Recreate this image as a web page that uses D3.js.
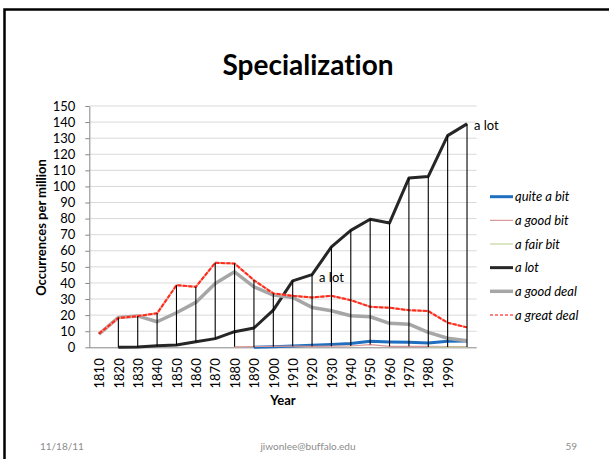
<!DOCTYPE html>
<html>
<head>
<meta charset="utf-8">
<script src="https://cdn.jsdelivr.net/npm/d3@7"></script>
<style>
  html, body { margin: 0; padding: 0; background: #fff; }
  svg { display: block; }
  text { font-family: Lato, "Open Sans", sans-serif; font-variant-ligatures: none; font-feature-settings: "liga" 0, "dlig" 0; }
</style>
</head>
<body>
<svg id="chart" width="609" height="459"></svg>
<script>
const years = [1810,1820,1830,1840,1850,1860,1870,1880,1890,1900,1910,1920,1930,1940,1950,1960,1970,1980,1990,2000];
const tickLabels = ["1810","1820","1830","1840","1850","1860","1870","1880","1890","1900","1910","1920","1930","1940","1950","1960","1970","1980","1990",""];
const yTicks = [0,10,20,30,40,50,60,70,80,90,100,110,120,130,140,150];

const quiteABit = [null,null,null,null,null,null,null,null,0,0.4,0.8,1.2,1.7,2.3,3.7,3.3,3.1,2.7,3.7,3.9];
const aGoodBit  = [null,null,null,null,null,null,null,0.3,0.5,0.6,0.7,0.6,0.7,0.8,1.7,0.6,0.6,0.6,0.5,0.5];
const aFairBit  = [null,null,null,null,null,null,null,null,null,null,null,null,null,null,null,null,null,0.2,0.2,0.2];
const aLot      = [null,0,0.2,1,1.4,3.5,5.4,9.7,12,23.1,41.3,45.2,62.4,72.7,79.6,77.3,105.2,106.2,131.6,138.9];
const aGoodDeal = [8.2,18.5,19.5,15.9,21.5,27.9,39.7,46.9,37.6,32.5,31,24.8,22.7,19.6,19,14.9,14.4,9.3,5.6,4.1];
const aGreatDeal= [8.5,18.2,19.4,21.1,38.6,37.6,52.5,52.1,41.7,33.5,32,31,32,29.3,25.2,24.6,23.1,22.5,15.3,12.4];

const seriesNames = ["quite a bit","a good bit","a fair bit","a lot","a good deal","a great deal"];
const seriesValues = [quiteABit, aGoodBit, aFairBit, aLot, aGoodDeal, aGreatDeal];
const seriesColors = ["#1F6FC0","#D99694","#C3D69B","#262626","#A6A6A6","#FF2A1A"];
const seriesWidths = [3, 1.2, 1.2, 3, 3.5, 2];

const title = "Specialization";
const yTitle = "Occurrences per million";
const xTitle = "Year";
const footer = ["11/18/11","jiwonlee@buffalo.edu","59"];

const svg = d3.select("#chart");
svg.append("rect").attr("width",609).attr("height",459).attr("fill","#fff");

// slide frame (top & left edges visible)
svg.append("rect").attr("x",4.5).attr("y",9.5).attr("width",700).attr("height",600)
  .attr("fill","none").attr("stroke","#000").attr("stroke-width",2.5);

const x = d3.scalePoint().domain(years).range([89.3, 476.7]).padding(0.5);
const y = d3.scaleLinear().domain([0,150]).range([347.3, 106]);

// gridlines
svg.append("g").selectAll("line").data(yTicks.filter(d=>d>0)).join("line")
  .attr("x1",89.3).attr("x2",476.7)
  .attr("y1",d=>y(d)).attr("y2",d=>y(d))
  .attr("stroke","#D9D9D9").attr("stroke-width",1);

// y axis
const yAxis = svg.append("g").attr("transform","translate(89.3,0)")
  .call(d3.axisLeft(y).tickValues(yTicks).tickSize(4).tickPadding(10).tickSizeOuter(0));
yAxis.select(".domain").attr("stroke","#868686");
yAxis.selectAll(".tick line").attr("stroke","#868686");
yAxis.selectAll("text").attr("font-size","13px").attr("fill","#000")
  .style("font-family","Lato, 'Open Sans', sans-serif");

// x axis
const xAxis = svg.append("g").attr("transform","translate(0,347.3)")
  .call(d3.axisBottom(x).tickSize(0).tickSizeOuter(0).tickFormat((d,i)=>tickLabels[i]));
xAxis.select(".domain").attr("stroke","#868686").attr("d","M89.3,0.5H476.7");
xAxis.selectAll("text")
  .attr("transform","rotate(-90)")
  .attr("x",-11).attr("y",0).attr("dy","0.36em")
  .attr("text-anchor","end")
  .attr("font-size","13px").attr("fill","#000")
  .style("font-family","Lato, 'Open Sans', sans-serif");

// series lines
const line = d3.line()
  .defined(d => d.v !== null)
  .x(d => x(d.year)).y(d => y(d.v));

seriesValues.forEach((vals, si) => {
  const pts = vals.map((v,i)=>({year: years[i], v}));
  if (si === 5) {
    svg.append("path").datum(pts).attr("d",line).attr("fill","none")
      .attr("stroke","#F59A8C").attr("stroke-width",2).attr("stroke-linejoin","round");
    svg.append("path").datum(pts).attr("d",line).attr("fill","none")
      .attr("stroke",seriesColors[si]).attr("stroke-width",2)
      .attr("stroke-dasharray","4,1.5").attr("stroke-linejoin","round");
  } else {
    svg.append("path").datum(pts).attr("d",line).attr("fill","none")
      .attr("stroke",seriesColors[si]).attr("stroke-width",seriesWidths[si])
      .attr("stroke-linejoin","round");
  }
});

// high-low lines
const hl = years.map((yr,i) => {
  const vs = seriesValues.map(s=>s[i]).filter(v=>v!==null);
  return {year: yr, hi: d3.max(vs), lo: d3.min(vs)};
});
svg.append("g").selectAll("line").data(hl).join("line")
  .attr("x1",d=>x(d.year)).attr("x2",d=>x(d.year))
  .attr("y1",d=>y(d.hi)).attr("y2",d=>y(d.lo))
  .attr("stroke","#000").attr("stroke-width",1.1);

// data labels for "a lot"
const labelIdx = [11, 19];
svg.append("g").selectAll("text").data(labelIdx).join("text")
  .attr("x",i=>x(years[i]) + 7).attr("y",i=>y(aLot[i]) + 2 + (i===11?1:0))
  .attr("dy","0.35em")
  .attr("font-size","13px").attr("fill","#000")
  .text("a lot");

// legend
const lg = svg.append("g");
seriesNames.forEach((name, si) => {
  const ly = 196.7 + si*23.65;
  if (si === 5) {
    lg.append("line").attr("x1",490).attr("x2",513).attr("y1",ly).attr("y2",ly)
      .attr("stroke","#FF8080").attr("stroke-width",2).attr("stroke-dasharray","3,2");
  } else {
    lg.append("line").attr("x1",490).attr("x2",513).attr("y1",ly).attr("y2",ly)
      .attr("stroke",seriesColors[si]).attr("stroke-width",seriesWidths[si]);
  }
  lg.append("text").attr("x",515).attr("y",ly).attr("dy","0.35em")
    .attr("font-size","13px").attr("font-style","italic").attr("fill","#000")
    .text(name);
});

// titles
svg.append("text").attr("x",308).attr("y",75).attr("text-anchor","middle")
  .attr("font-size","28px").attr("font-weight","bold").attr("fill","#000").text(title);

svg.append("text").attr("transform","translate(45.5,227.5) rotate(-90)")
  .attr("text-anchor","middle").attr("font-size","13px").attr("font-weight","bold")
  .attr("fill","#000").text(yTitle);

svg.append("text").attr("x",283).attr("y",405).attr("text-anchor","middle")
  .attr("font-size","13px").attr("font-weight","bold").attr("fill","#000").text(xTitle);

// footer
svg.append("text").attr("x",40).attr("y",450).attr("font-size","10px").attr("fill","#8C8C8C").text(footer[0]);
svg.append("text").attr("x",308).attr("y",450).attr("text-anchor","middle").attr("font-size","10px").attr("fill","#8C8C8C").text(footer[1]);
svg.append("text").attr("x",577).attr("y",450).attr("text-anchor","end").attr("font-size","10px").attr("fill","#8C8C8C").text(footer[2]);
</script>
</body>
</html>
